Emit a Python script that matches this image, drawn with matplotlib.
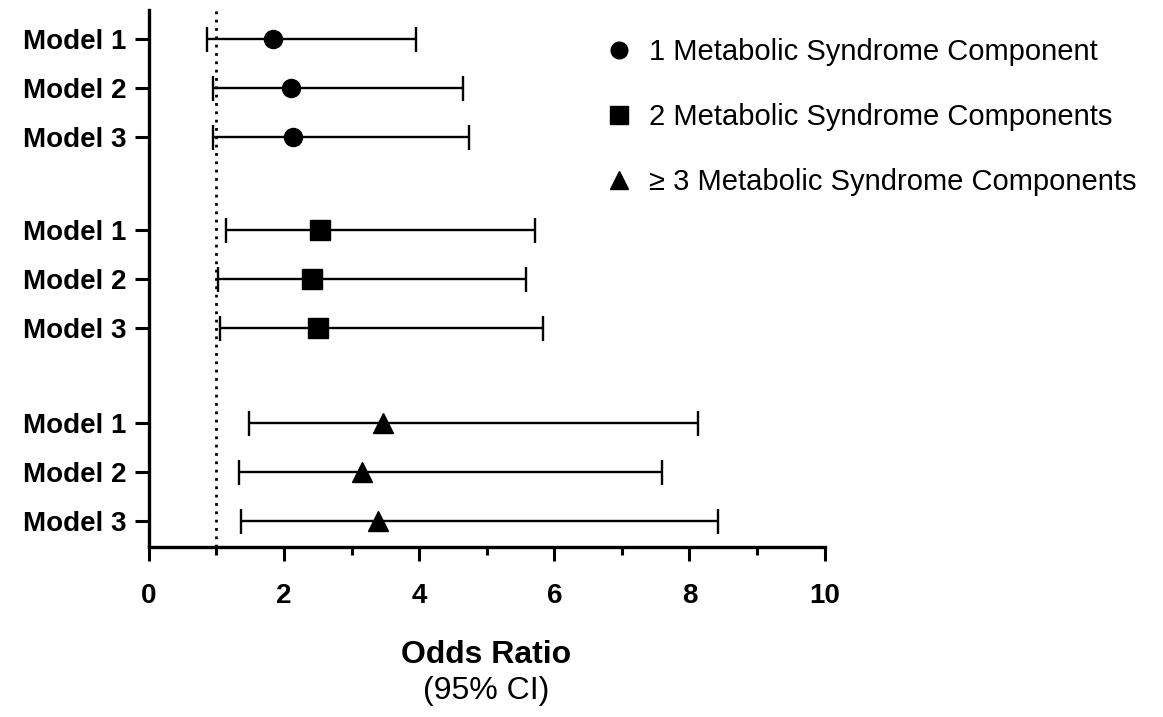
import matplotlib
matplotlib.use("Agg")
import matplotlib.pyplot as plt
from matplotlib.lines import Line2D

plt.rcParams['font.family'] = ['Liberation Sans', 'DejaVu Sans']

labels = ["Model 1", "Model 2", "Model 3"] * 3
groups = ["1 Metabolic Syndrome Component",
          "2 Metabolic Syndrome Components",
          "\u2265 3 Metabolic Syndrome Components"]
markers = ["o", "s", "^"]
y_pos = [0, 1, 2, 3.9, 4.9, 5.9, 7.84, 8.84, 9.84]

or_est = [1.84, 2.10, 2.14, 2.54, 2.42, 2.50, 3.46, 3.16, 3.39]
ci_low = [0.86, 0.95, 0.95, 1.14, 1.02, 1.06, 1.48, 1.33, 1.37]
ci_high = [3.95, 4.65, 4.74, 5.72, 5.58, 5.84, 8.13, 7.60, 8.43]

fig = plt.figure(figsize=(11.63, 7.17), dpi=100)
ax = fig.add_axes([0.128, 0.237, 0.581, 0.749])

msizes = {"o": 13, "s": 14, "^": 14}
for g in range(3):
    idx = range(3 * g, 3 * g + 3)
    xs = [or_est[i] for i in idx]
    ys = [y_pos[i] for i in idx]
    lo = [or_est[i] - ci_low[i] for i in idx]
    hi = [ci_high[i] - or_est[i] for i in idx]
    ax.errorbar(xs, ys, xerr=[lo, hi], fmt=markers[g], color="black",
                ms=msizes[markers[g]], elinewidth=1.7, capsize=9, capthick=1.7,
                zorder=3)

ax.axvline(1.0, color="black", linestyle=(0, (1, 2)), linewidth=2, zorder=1)

ax.set_xlim(0, 10)
ax.set_ylim(10.37, -0.59)
ax.set_yticks(y_pos)
ax.set_yticklabels(labels, fontsize=20, fontweight="bold")
ax.set_xticks([0, 2, 4, 6, 8, 10])
ax.set_xticks([1, 3, 5, 7, 9], minor=True)
ax.set_xticklabels(["0", "2", "4", "6", "8", "10"], fontsize=20, fontweight="bold")
ax.tick_params(axis="both", which="major", length=10, width=2.2, direction="out")
ax.tick_params(axis="x", which="minor", length=6, width=2.2, direction="out")
ax.tick_params(axis="y", pad=6)
ax.tick_params(axis="x", pad=16)

for s in ["top", "right"]:
    ax.spines[s].set_visible(False)
for s in ["left", "bottom"]:
    ax.spines[s].set_linewidth(2.4)

fig.text(0.418, 0.086, "Odds Ratio", ha="center", va="center",
         fontsize=23, fontweight="bold")
fig.text(0.418, 0.036, "(95% CI)", ha="center", va="center", fontsize=23)

handles = [Line2D([], [], marker=m, color="black", linestyle="none",
                  markersize=msizes[m] - 1) for m in markers]
fig.legend(handles, groups, loc="upper left", bbox_to_anchor=(0.495, 0.984),
           frameon=False, fontsize=21, labelspacing=1.27, handletextpad=0.4,
           handlelength=1.2)

fig.savefig("out.png", dpi=100)
